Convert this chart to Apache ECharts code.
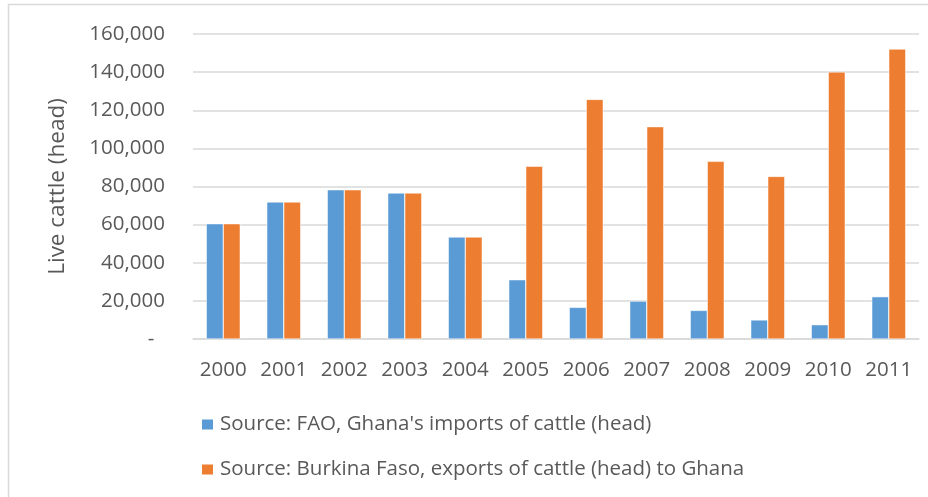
<!DOCTYPE html>
<html>
<head>
<meta charset="utf-8">
<script src="https://cdn.jsdelivr.net/npm/echarts@6/dist/echarts.min.js"></script>
<style>
html,body{margin:0;padding:0;background:#fff;}
#chart{width:928px;height:497px;}
</style>
</head>
<body>
<div id="chart"></div>
<script>
var years = ['2000','2001','2002','2003','2004','2005','2006','2007','2008','2009','2010','2011'];
var faoImports = [60500, 71900, 78300, 76600, 53500, 31100, 16600, 19900, 15000, 10000, 7500, 22200];
var burkinaExports = [60500, 71900, 78300, 76600, 53500, 90600, 125700, 111400, 93200, 85300, 140100, 152100];
var seriesNames = ["Source: FAO, Ghana's imports of cattle (head)", "Source: Burkina Faso, exports of cattle (head) to Ghana"];
var yAxisTitle = 'Live cattle (head)';

var FONT = '"Open Sans", sans-serif';
var TXT = '#595959';
var chart = echarts.init(document.getElementById('chart'), null, {renderer: 'canvas'});
chart.setOption({
  animation: false,
  backgroundColor: '#ffffff',
  textStyle: {fontFamily: FONT},
  graphic: [
    {type: 'line', shape: {x1: 8, y1: 4.5, x2: 928, y2: 4.5}, style: {stroke: '#d9d9d9', lineWidth: 1.5}},
    {type: 'line', shape: {x1: 8.5, y1: 4, x2: 8.5, y2: 497}, style: {stroke: '#d9d9d9', lineWidth: 1.5}}
  ],
  grid: {left: 193, right: 9, top: 34, bottom: 158, containLabel: false},
  legend: {
    orient: 'vertical',
    left: 200,
    top: 414,
    padding: 0,
    itemWidth: 13,
    itemHeight: 12,
    itemGap: 24,
    icon: 'rect',
    textStyle: {fontFamily: FONT, fontSize: 20.5, color: TXT, lineHeight: 20, padding: [0,0,0,1]},
    data: seriesNames
  },
  xAxis: {
    type: 'category',
    data: years,
    axisLine: {lineStyle: {color: '#d9d9d9', width: 1.5}},
    axisTick: {show: false},
    axisLabel: {fontFamily: FONT, fontSize: 20.5, color: TXT, margin: 21, interval: 0, hideOverlap: false}
  },
  yAxis: {
    type: 'value',
    min: 0,
    max: 160000,
    interval: 20000,
    name: yAxisTitle,
    nameLocation: 'middle',
    nameGap: 124,
    nameTextStyle: {fontFamily: FONT, fontSize: 22.5, color: TXT},
    axisLine: {show: false},
    axisTick: {show: false},
    splitLine: {lineStyle: {color: '#d9d9d9', width: 1.5}},
    axisLabel: {
      fontFamily: FONT, fontSize: 20.5, color: TXT, margin: 28,
      formatter: function (v) {
        if (v === 0) return '-\u00a0\u00a0';
        return v.toString().replace(/\B(?=(\d{3})+(?!\d))/g, ',');
      }
    }
  },
  series: [
    {
      name: seriesNames[0], type: 'bar', data: faoImports,
      barWidth: 17, barGap: '0%',
      itemStyle: {color: '#5B9BD5', borderColor: '#ffffff', borderWidth: 0.5}
    },
    {
      name: seriesNames[1], type: 'bar', data: burkinaExports,
      barWidth: 17, barGap: '0%',
      itemStyle: {color: '#ED7D31', borderColor: '#ffffff', borderWidth: 0.5}
    }
  ]
});
</script>
</body>
</html>
